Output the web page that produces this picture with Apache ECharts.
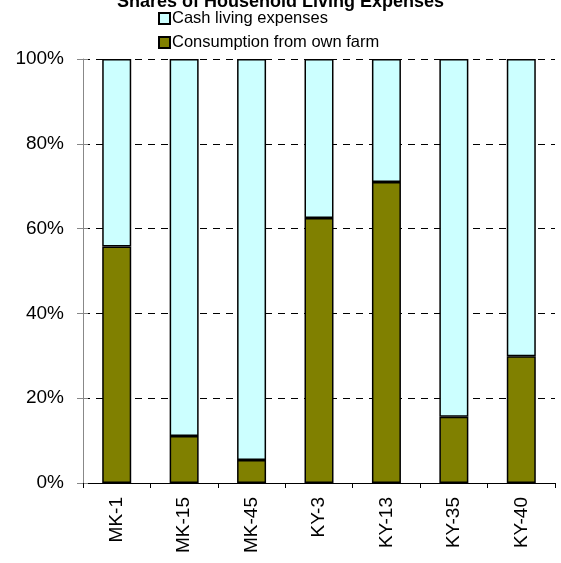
<!DOCTYPE html>
<html><head><meta charset="utf-8">
<script src="https://cdn.jsdelivr.net/npm/echarts@6/dist/echarts.min.js"></script>
<style>html,body{margin:0;padding:0;background:#fff}#c{width:561px;height:563px}</style>
</head><body><div id="c"></div>
<script>
const categories = ['MK-1','MK-15','MK-45','KY-3','KY-13','KY-35','KY-40'];
const ownFarm = [55.8, 11.1, 5.4, 62.5, 71.0, 15.6, 29.9];
const cashLiving = [44.2, 88.9, 94.6, 37.5, 29.0, 84.4, 70.1];
const yTicks = ['0%','20%','40%','60%','80%','100%'];
const seriesNames = ['Cash living expenses','Consumption from own farm'];
const titleText = 'Shares of Household Living Expenses';

const chart = echarts.init(document.getElementById('c'));
const font = 'Arial, "Liberation Sans", sans-serif';
chart.setOption({
  animation: false,
  title: {text: titleText, left: 'center', top: -12,
    textStyle: {fontFamily: font, fontSize: 18, fontWeight: 'bold', color: '#000'}},
  legend: {orient: 'vertical', left: 153, top: 5, itemGap: 7, itemWidth: 11, itemHeight: 11,
    data: seriesNames, icon: 'rect',
    textStyle: {fontFamily: font, fontSize: 16.5, color: '#000', padding: [0,0,0,-3]}},
  grid: {left: 83, right: 6, top: 59, bottom: 80},
  xAxis: {type: 'category', data: categories,
    axisLine: {lineStyle: {color: '#000'}},
    axisTick: {show: true, alignWithLabel: false, length: 5, lineStyle: {color: '#000'}},
    axisLabel: {rotate: 90, fontFamily: font, fontSize: 19, color: '#000', margin: 14}},
  yAxis: [
    {type: 'value', min: 0, max: 100, interval: 20,
    axisLine: {show: true, lineStyle: {color: '#888'}},
    axisTick: {show: true, length: 6, lineStyle: {color: '#888'}},
    splitLine: {show: true, lineStyle: {color: '#000', type: [7, 6], width: 1}},
    axisLabel: {fontFamily: font, fontSize: 19, color: '#000', margin: 19,
      formatter: v => yTicks[Math.round(v / 20)]}},
    {type: 'value', min: 0, max: 100, interval: 20, position: 'left',
    axisLine: {show: false},
    axisTick: {show: true, inside: true, length: 5, lineStyle: {color: '#888'}},
    splitLine: {show: false}, axisLabel: {show: false}}
  ],
  series: [
    {name: seriesNames[1], type: 'bar', stack: 's', data: ownFarm, barWidth: '43%',
     itemStyle: {color: '#808000', borderColor: '#000', borderWidth: 1.5}},
    {name: seriesNames[0], type: 'bar', stack: 's', data: cashLiving, barWidth: '43%',
     itemStyle: {color: '#CCFFFF', borderColor: '#000', borderWidth: 1.5}}
  ]
});
</script></body></html>
